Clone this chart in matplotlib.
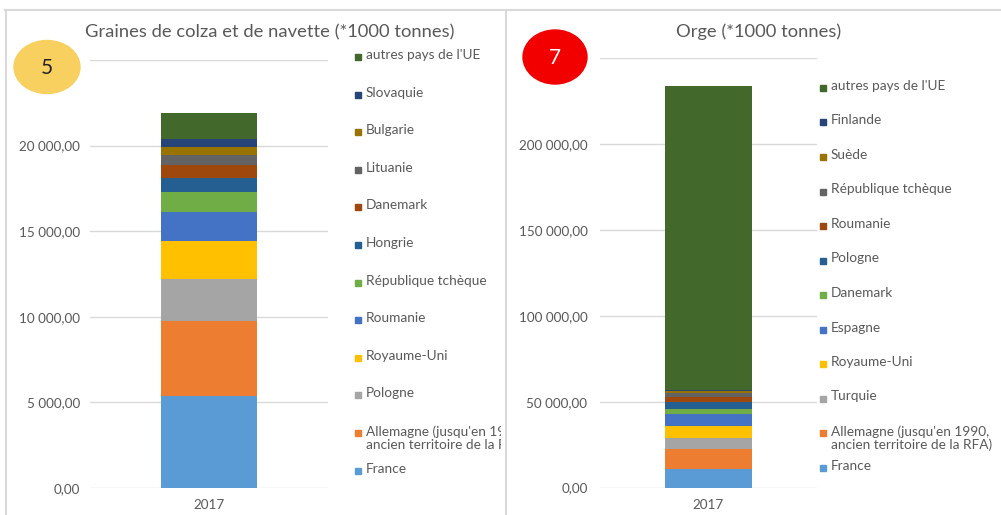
import numpy as np
import matplotlib
matplotlib.use('Agg')
import matplotlib.pyplot as plt
from matplotlib.patches import Ellipse, Rectangle
from matplotlib.lines import Line2D
from matplotlib.transforms import Bbox, TransformedBbox
from matplotlib.ticker import FuncFormatter, MultipleLocator

plt.rcParams['font.family'] = ['Lato', 'DejaVu Sans']

# data (bottom -> top of the stacked bars)
annee = ['2017']

colza_pays = ['France', "Allemagne (jusqu'en 1990,\nancien territoire de la RFA)", 'Pologne',
              'Royaume-Uni', 'Roumanie', 'République tchèque', 'Hongrie', 'Danemark',
              'Lituanie', 'Bulgarie', 'Slovaquie', "autres pays de l'UE"]
colza_vals = [5370, 4360, 2450, 2240, 1700, 1170, 840, 760, 540, 485, 450, 1535]

orge_pays = ['France', "Allemagne (jusqu'en 1990,\nancien territoire de la RFA)", 'Turquie',
             'Royaume-Uni', 'Espagne', 'Danemark', 'Pologne', 'Roumanie',
             'République tchèque', 'Suède', 'Finlande', "autres pays de l'UE"]
orge_vals = [10920, 11450, 6390, 7140, 6630, 3480, 4080, 2670, 2150, 1170, 980, 176900]

couleurs = ['#5B9BD5', '#ED7D31', '#A5A5A5', '#FFC000', '#4472C4', '#70AD47',
            '#255E91', '#9E480E', '#636363', '#997300', '#264478', '#43682B']

W, H = 1001, 515
gris = '#595959'

def fx(x):
    return x / W

def fy(y):
    return 1 - y / H

def make_fmt(ymax):
    # top label is hidden under the round badge in the original
    def fmt(v, pos):
        if v >= ymax:
            return ''
        s = '{:,.2f}'.format(v)
        return s.replace(',', ' ').replace('.', ',')
    return FuncFormatter(fmt)

fig = plt.figure(figsize=(W / 100, H / 100), dpi=100)

def panel(rect, pays, vals, ymax, step, titre, title_xy, leg_x, leg_y0, leg_dy, pad, clip=None):
    ax = fig.add_axes(rect)
    bottom = 0
    for p, v, c in zip(pays, vals, couleurs):
        ax.bar(annee, [v], bottom=bottom, width=0.4, color=c, zorder=2)
        bottom += v
    ax.set_xlim(-0.5, 0.5)
    ax.set_ylim(0, ymax)
    ax.yaxis.set_major_locator(MultipleLocator(step))
    ax.yaxis.set_major_formatter(make_fmt(ymax))
    ax.grid(axis='y', color='#D9D9D9', linewidth=1, zorder=0)
    for s in ax.spines.values():
        s.set_visible(False)
    ax.tick_params(axis='both', length=0, colors=gris, labelsize=9.7)
    ax.tick_params(axis='y', pad=pad)
    ax.tick_params(axis='x', pad=8)
    fig.text(fx(title_xy[0]), fy(title_xy[1]), titre, ha='center', va='center',
             fontsize=13.2, color=gris)
    # legend, top entry first
    for i, (p, c) in enumerate(zip(pays[::-1], couleurs[::-1])):
        y = leg_y0 + i * leg_dy
        fig.add_artist(Rectangle((fx(leg_x - 3), fy(y + 3)), 6 / W, 6 / H,
                                 transform=fig.transFigure, color=c))
        t = fig.text(fx(leg_x + 8), fy(y - 8), p, ha='left', va='top',
                     fontsize=9.8, color=gris, linespacing=1.1)
        if clip is not None:
            t.set_clip_box(clip)
            t.set_clip_on(True)
    return ax

clip_gauche = TransformedBbox(Bbox.from_extents(0, 0, fx(501), 1), fig.transFigure)

ax1 = panel([fx(90), fy(488), fx(328) - fx(90), (488 - 60) / H], colza_pays, colza_vals,
            25000, 5000, 'Graines de colza et de navette (*1000 tonnes)', (270, 32),
            358, 57, 37.6, 7, clip=clip_gauche)
ax2 = panel([fx(600), fy(487.5), fx(817) - fx(600), (487.5 - 58.3) / H], orge_pays, orge_vals,
            250000, 50000, 'Orge (*1000 tonnes)', (759, 32),
            823, 88, 34.5, 9)

# cadres des deux panneaux
for xs, ys in [((5, W), (10, 10)), ((6, 6), (10, H)), ((506, 506), (10, H))]:
    fig.add_artist(Line2D([fx(xs[0]), fx(xs[1])], [fy(ys[0]), fy(ys[1])],
                          transform=fig.transFigure, color='#D9D9D9', linewidth=1.5))

# pastilles numérotées
fig.add_artist(Ellipse((fx(47), fy(67)), 66 / W, 53 / H, transform=fig.transFigure,
                       color='#F8D060', zorder=5))
fig.text(fx(47), fy(68), '5', ha='center', va='center', fontsize=15, color='#222222', zorder=6)
fig.add_artist(Ellipse((fx(555), fy(57)), 64 / W, 54 / H, transform=fig.transFigure,
                       color='#F20000', zorder=5))
fig.text(fx(555), fy(58), '7', ha='center', va='center', fontsize=15, color='white', zorder=6)

plt.savefig('out.png', dpi=100)
